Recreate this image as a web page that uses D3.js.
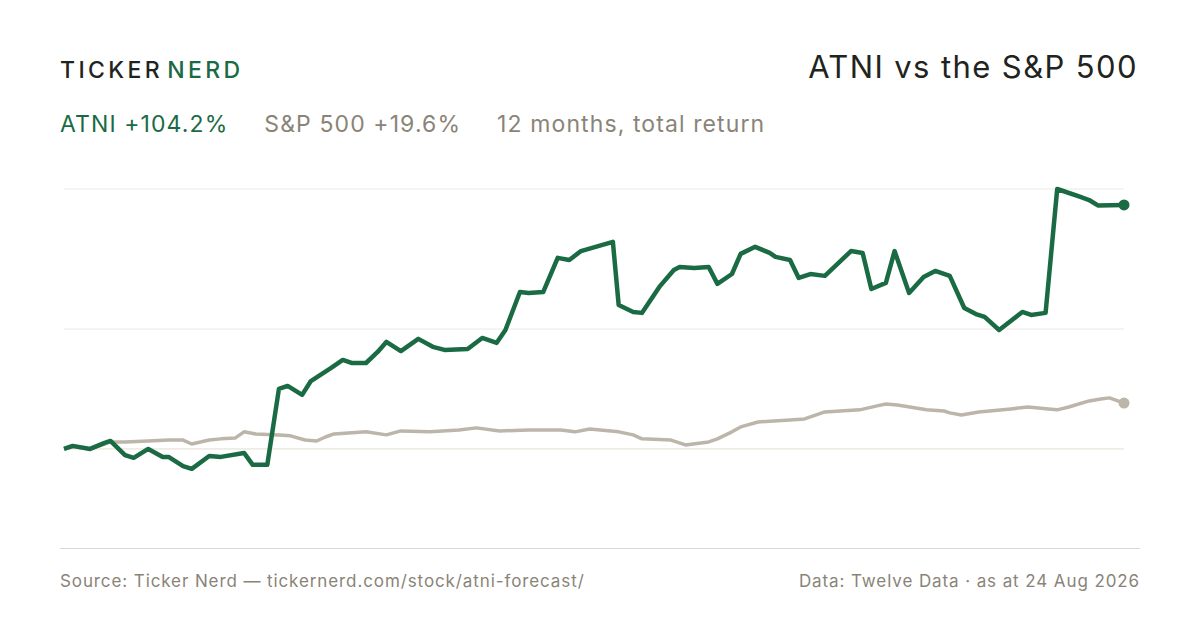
<!DOCTYPE html>
<html lang="en">
<head>
<meta charset="UTF-8">
<title>ATNI vs the S&amp;P 500</title>
<script src="https://d3js.org/d3.v7.min.js"></script>
<style>
  body { margin: 0; background: #fff; }
  text { font-family: Inter, "Noto Sans", sans-serif; }
</style>
</head>
<body>
<svg width="1200" height="630"></svg>
<script>
// days since start, cumulative total return in %
const atniDays = [0,3,9,14,16,21,24,29,34,36,41,44,50,54,62,65,70,74,77,82,85,92,96,99,104,108,111,116,122,127,131,139,144,149,152,157,160,165,170,174,178,189,191,196,199,205,210,212,217,222,225,230,233,238,243,245,250,253,257,262,271,275,278,283,286,291,296,300,305,310,314,317,322,330,333,338,342,350,353,356,365];
const atniRet = [0,1.3,0,2.6,3.4,-2.6,-3.8,0,-3.4,-3.4,-7.3,-8.5,-3.0,-3.4,-1.7,-6.8,-6.8,25.6,26.9,23.1,29.0,34.6,38.0,36.7,36.7,41.4,45.7,41.8,47.0,43.6,42.3,42.7,47.4,45.3,50.8,67.0,66.6,67.0,81.6,80.7,84.5,88.4,61.5,58.5,58.1,69.2,76.4,77.7,77.3,77.7,70.5,74.7,83.3,86.3,83.7,82.0,80.7,73.0,74.7,73.9,84.5,83.7,68.3,70.9,84.5,66.6,73.4,76.0,73.9,60.2,57.6,56.4,50.8,58.5,57.2,58.1,111.0,107.6,106.3,104.0,104.2];
const spDays = [0,3,9,14,16,21,29,36,41,44,50,54,59,62,66,74,78,83,87,90,93,98,104,111,116,126,136,142,150,160,171,176,181,191,196,199,209,214,222,225,230,233,239,250,255,262,274,280,283,287,297,303,305,309,315,326,332,339,342,346,353,357,360,365];
const spRet = [0,0.9,0,2.1,3.0,3.0,3.4,3.8,3.8,2.1,3.8,4.3,4.7,7.3,6.4,6.0,5.6,3.8,3.4,5.1,6.4,6.8,7.3,6.0,7.7,7.3,8.1,9.0,7.7,8.1,8.1,7.3,8.5,7.3,6.0,4.3,3.8,1.7,3.0,4.3,7.3,9.4,11.5,12.4,12.8,15.8,16.7,18.4,19.2,18.8,16.7,16.2,15.4,14.5,15.8,17.1,17.9,17.1,16.7,17.9,20.5,21.3,21.8,19.6];
const gridValues = [0, 51.2, 111];

const green = "#1a6b43", grey = "#bdb5aa", muted = "#8a8478";
const svg = d3.select("svg");

const x = d3.scaleLinear().domain([0, 365]).range([64, 1124]);
const y = d3.scaleLinear().domain([-42.3, 111]).range([548, 189]);

// header
const brand = svg.append("text").attr("x", 60).attr("y", 78)
  .attr("font-size", 23).attr("letter-spacing", 3.4).attr("font-weight", 500);
brand.append("tspan").attr("fill", "#1f2420").text("TICKER");
brand.append("tspan").attr("fill", green).attr("dx", 4).text("NERD");

svg.append("text").attr("x", 1138).attr("y", 78).attr("text-anchor", "end")
  .attr("font-size", 31).attr("letter-spacing", 1.4).attr("fill", "#1f2420").text("ATNI vs the S&P 500");

const sub = svg.append("text").attr("x", 60).attr("y", 132).attr("font-size", 23).attr("letter-spacing", 1.1);
sub.append("tspan").attr("fill", green).text("ATNI +104.2%");
sub.append("tspan").attr("fill", muted).attr("dx", 36).text("S&P 500 +19.6%");
sub.append("tspan").attr("fill", muted).attr("dx", 36).text("12 months, total return");

// grid
svg.selectAll(".grid").data(gridValues).enter().append("line")
  .attr("x1", 64).attr("x2", 1124)
  .attr("y1", d => y(d)).attr("y2", d => y(d))
  .attr("stroke", d => d === 0 ? "#e2ddd2" : "#ece9e3").attr("stroke-width", 1);

svg.append("line").attr("x1", 60).attr("x2", 1140).attr("y1", 548.5).attr("y2", 548.5)
  .attr("stroke", "#dcd8cf");

const line = d3.line().x(d => x(d[0])).y(d => y(d[1]));

const spPts = d3.zip(spDays, spRet);
const atniPts = d3.zip(atniDays, atniRet);

svg.append("path").datum(spPts).attr("d", line).attr("fill", "none")
  .attr("stroke", grey).attr("stroke-width", 3.5).attr("stroke-linejoin", "round");
svg.append("circle").attr("cx", x(spDays.at(-1))).attr("cy", y(spRet.at(-1))).attr("r", 5.5).attr("fill", grey);

svg.append("path").datum(atniPts).attr("d", line).attr("fill", "none")
  .attr("stroke", green).attr("stroke-width", 4.5).attr("stroke-linejoin", "round");
svg.append("circle").attr("cx", x(atniDays.at(-1))).attr("cy", y(atniRet.at(-1))).attr("r", 5.5).attr("fill", green);

// footer
svg.append("text").attr("x", 60).attr("y", 587).attr("font-size", 17).attr("letter-spacing", 0.9).attr("fill", muted)
  .text("Source: Ticker Nerd — tickernerd.com/stock/atni-forecast/");
svg.append("text").attr("x", 1140).attr("y", 587).attr("text-anchor", "end").attr("font-size", 17).attr("letter-spacing", 0.9).attr("fill", muted)
  .text("Data: Twelve Data · as at 24 Aug 2026");
</script>
</body>
</html>
